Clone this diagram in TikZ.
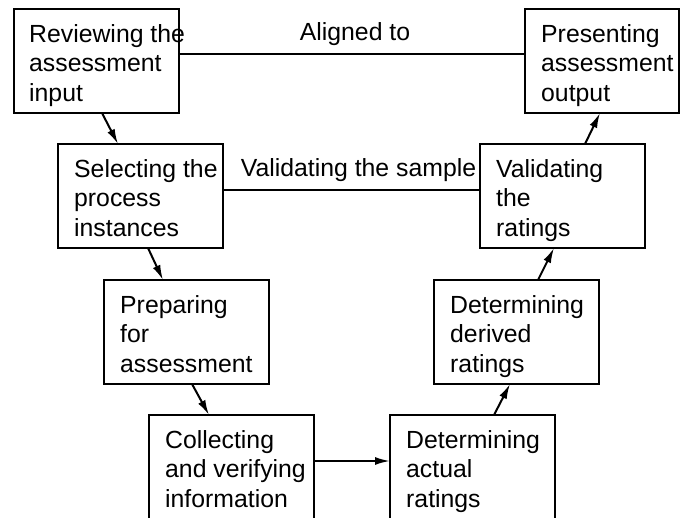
\documentclass[tikz,border=0pt]{standalone}
\usepackage{fontspec}
\setmainfont{Liberation Sans}
\usetikzlibrary{arrows.meta}
\begin{document}
\begin{tikzpicture}[x=1pt,y=-1pt,
  box/.style={draw, line width=2pt, rectangle, minimum width=165pt, minimum height=104pt, anchor=north west, inner sep=0pt, outer sep=0pt},
  txt/.style={anchor=north west, align=left, inner sep=0pt, font=\fontsize{24.8}{29.5}\selectfont},
  lbl/.style={anchor=base, inner sep=0pt, font=\fontsize{24.8}{29.5}\selectfont},
  conn/.style={line width=2pt},
  arr/.style={line width=2pt, -{Latex[length=15pt,width=8pt]}}]
\useasboundingbox (0,0) rectangle (680,518);
\clip (0,0) rectangle (680,518);
% boxes
\node[box] (rev) at (14,9) {};
\node[box, minimum width=154pt] (pres) at (525,9) {};
\node[box] (sel) at (58,144) {};
\node[box] (valr) at (480,144) {};
\node[box] (prep) at (104,280) {};
\node[box] (deriv) at (434,280) {};
\node[box, minimum height=112pt] (coll) at (149,415) {};
\node[box, minimum height=112pt] (act) at (390,415) {};
% texts
\node[txt] (revt) at ([xshift=15pt,yshift=-15pt]rev.north west) {Reviewing the\\assessment\\input};
\node[txt] (prest) at ([xshift=16pt,yshift=-15pt]pres.north west) {Presenting\\assessment\\output};
\node[txt] (selt) at ([xshift=16pt,yshift=-15pt]sel.north west) {Selecting the\\process\\instances};
\node[txt] (valrt) at ([xshift=16pt,yshift=-15pt]valr.north west) {Validating\\the\\ratings};
\node[txt] (prept) at ([xshift=16pt,yshift=-15pt]prep.north west) {Preparing\\for\\assessment};
\node[txt] (derivt) at ([xshift=16pt,yshift=-15pt]deriv.north west) {Determining\\derived\\ratings};
\node[txt] (collt) at ([xshift=16pt,yshift=-15pt]coll.north west) {Collecting\\and verifying\\information};
\node[txt] (actt) at ([xshift=16pt,yshift=-15pt]act.north west) {Determining\\actual\\ratings};
% plain connectors with labels
\draw[conn] ([yshift=7pt]rev.east) -- node[lbl, xshift=3pt, yshift=13pt] (al) {Aligned to} ([yshift=7pt]pres.west);
\draw[conn] ([yshift=6pt]sel.east) -- node[lbl, xshift=7pt, yshift=13pt] (vs) {Validating the sample} ([yshift=6pt]valr.west);
% arrows
\draw[arr] ([xshift=88pt]rev.south west) -- ([xshift=60pt]sel.north west);
\draw[arr] ([xshift=90pt]sel.south west) -- ([xshift=59pt]prep.north west);
\draw[arr] ([xshift=88pt]prep.south west) -- ([xshift=60pt]coll.north west);
\draw[arr] ([yshift=-46pt]coll.north east) -- ([yshift=-46pt]act.north west);
\draw[arr] ([xshift=104pt]act.north west) -- ([xshift=76pt]deriv.south west);
\draw[arr] ([xshift=104pt]deriv.north west) -- ([xshift=74pt]valr.south west);
\draw[arr] ([xshift=105pt]valr.north west) -- ([xshift=75pt]pres.south west);
\end{tikzpicture}
\end{document}
